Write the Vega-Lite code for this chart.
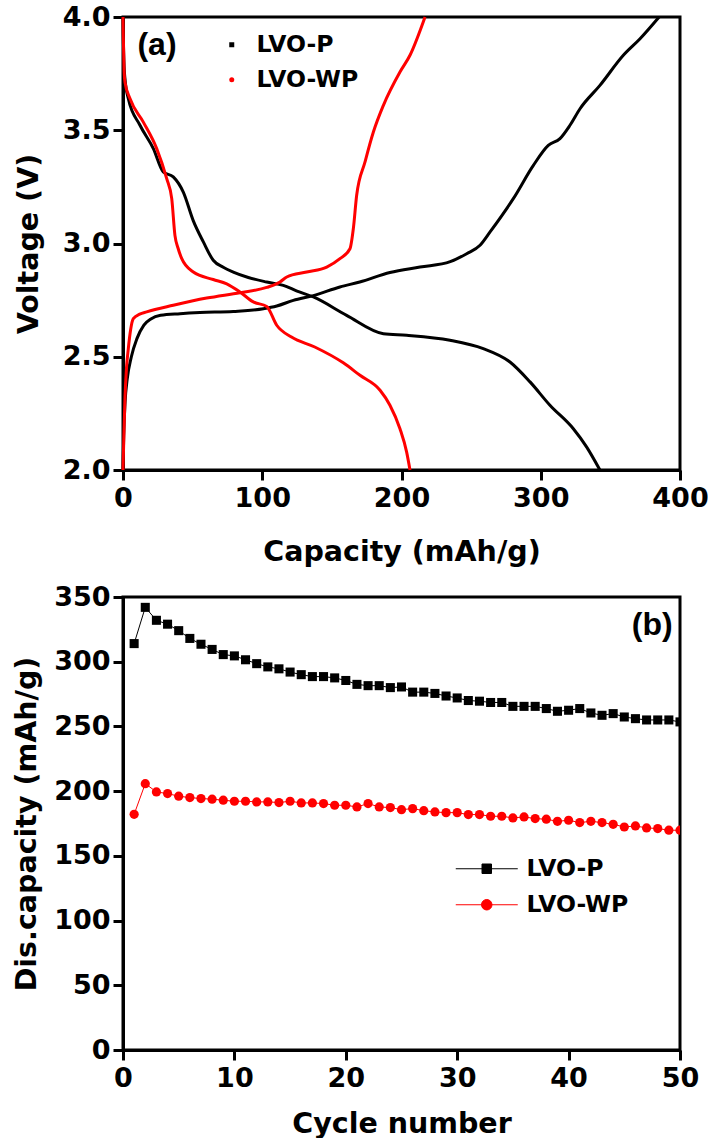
{
  "$schema": "https://vega.github.io/schema/vega-lite/v6.json",
  "background": "white",
  "padding": {"left": 10, "top": 1, "right": 0, "bottom": 0},
  "spacing": 127,
  "bounds": "flush",
  "config": {
    "font": "DejaVu Sans",
    "view": {"stroke": "black", "strokeWidth": 3},
    "axis": {
      "grid": false,
      "domainColor": "black", "domainWidth": 3,
      "tickColor": "black", "tickWidth": 3, "tickSize": 10,
      "labelFont": "DejaVu Sans", "labelFontWeight": "bold", "labelFontSize": 27, "labelColor": "black",
      "labelFlush": false, "labelOverlap": false, "labelBound": false,
      "titleFont": "DejaVu Sans", "titleFontWeight": "bold", "titleFontSize": 28.5, "titleColor": "black"
    },
    "axisX": {"labelPadding": 5},
    "axisY": {"labelPadding": 3},
    "legend": {
      "labelFont": "DejaVu Sans", "labelFontWeight": "bold", "labelFontSize": 23.5, "labelColor": "black",
      "padding": 0
    }
  },
  "datasets": {
    "curves": [
      {"s": "LVO-P", "c": "P-charge", "cap": 0, "V": 2.0},
      {"s": "LVO-P", "c": "P-charge", "cap": 0.5, "V": 2.15},
      {"s": "LVO-P", "c": "P-charge", "cap": 1.5, "V": 2.3},
      {"s": "LVO-P", "c": "P-charge", "cap": 3, "V": 2.4},
      {"s": "LVO-P", "c": "P-charge", "cap": 6, "V": 2.5},
      {"s": "LVO-P", "c": "P-charge", "cap": 10, "V": 2.58},
      {"s": "LVO-P", "c": "P-charge", "cap": 15, "V": 2.64},
      {"s": "LVO-P", "c": "P-charge", "cap": 20, "V": 2.667},
      {"s": "LVO-P", "c": "P-charge", "cap": 27, "V": 2.683},
      {"s": "LVO-P", "c": "P-charge", "cap": 41, "V": 2.69},
      {"s": "LVO-P", "c": "P-charge", "cap": 55.3, "V": 2.695},
      {"s": "LVO-P", "c": "P-charge", "cap": 79.2, "V": 2.7},
      {"s": "LVO-P", "c": "P-charge", "cap": 100.8, "V": 2.712},
      {"s": "LVO-P", "c": "P-charge", "cap": 110.4, "V": 2.724},
      {"s": "LVO-P", "c": "P-charge", "cap": 122.3, "V": 2.749},
      {"s": "LVO-P", "c": "P-charge", "cap": 136.7, "V": 2.77},
      {"s": "LVO-P", "c": "P-charge", "cap": 155.8, "V": 2.808},
      {"s": "LVO-P", "c": "P-charge", "cap": 170, "V": 2.83},
      {"s": "LVO-P", "c": "P-charge", "cap": 191.7, "V": 2.872},
      {"s": "LVO-P", "c": "P-charge", "cap": 213.3, "V": 2.896},
      {"s": "LVO-P", "c": "P-charge", "cap": 235, "V": 2.92},
      {"s": "LVO-P", "c": "P-charge", "cap": 246.8, "V": 2.955},
      {"s": "LVO-P", "c": "P-charge", "cap": 256.4, "V": 2.992},
      {"s": "LVO-P", "c": "P-charge", "cap": 263.6, "V": 3.051},
      {"s": "LVO-P", "c": "P-charge", "cap": 280.3, "V": 3.198},
      {"s": "LVO-P", "c": "P-charge", "cap": 294.7, "V": 3.345},
      {"s": "LVO-P", "c": "P-charge", "cap": 305.4, "V": 3.433},
      {"s": "LVO-P", "c": "P-charge", "cap": 313.8, "V": 3.463},
      {"s": "LVO-P", "c": "P-charge", "cap": 321, "V": 3.522},
      {"s": "LVO-P", "c": "P-charge", "cap": 328.2, "V": 3.595},
      {"s": "LVO-P", "c": "P-charge", "cap": 342.5, "V": 3.698},
      {"s": "LVO-P", "c": "P-charge", "cap": 359.3, "V": 3.831},
      {"s": "LVO-P", "c": "P-charge", "cap": 371.3, "V": 3.904},
      {"s": "LVO-P", "c": "P-charge", "cap": 385, "V": 4.0},

      {"s": "LVO-P", "c": "P-dis", "cap": 0, "V": 4.0},
      {"s": "LVO-P", "c": "P-dis", "cap": 0.2, "V": 3.92},
      {"s": "LVO-P", "c": "P-dis", "cap": 0.8, "V": 3.78},
      {"s": "LVO-P", "c": "P-dis", "cap": 1.4, "V": 3.728},
      {"s": "LVO-P", "c": "P-dis", "cap": 3.8, "V": 3.64},
      {"s": "LVO-P", "c": "P-dis", "cap": 12.2, "V": 3.522},
      {"s": "LVO-P", "c": "P-dis", "cap": 21.8, "V": 3.419},
      {"s": "LVO-P", "c": "P-dis", "cap": 28.9, "V": 3.316},
      {"s": "LVO-P", "c": "P-dis", "cap": 36.1, "V": 3.294},
      {"s": "LVO-P", "c": "P-dis", "cap": 43.3, "V": 3.227},
      {"s": "LVO-P", "c": "P-dis", "cap": 50.5, "V": 3.1},
      {"s": "LVO-P", "c": "P-dis", "cap": 57.7, "V": 3.007},
      {"s": "LVO-P", "c": "P-dis", "cap": 64.8, "V": 2.926},
      {"s": "LVO-P", "c": "P-dis", "cap": 72, "V": 2.895},
      {"s": "LVO-P", "c": "P-dis", "cap": 79.2, "V": 2.874},
      {"s": "LVO-P", "c": "P-dis", "cap": 90, "V": 2.85},
      {"s": "LVO-P", "c": "P-dis", "cap": 103.2, "V": 2.83},
      {"s": "LVO-P", "c": "P-dis", "cap": 115.1, "V": 2.815},
      {"s": "LVO-P", "c": "P-dis", "cap": 125, "V": 2.79},
      {"s": "LVO-P", "c": "P-dis", "cap": 136.7, "V": 2.764},
      {"s": "LVO-P", "c": "P-dis", "cap": 160.6, "V": 2.683},
      {"s": "LVO-P", "c": "P-dis", "cap": 187, "V": 2.602},
      {"s": "LVO-P", "c": "P-dis", "cap": 203.7, "V": 2.595},
      {"s": "LVO-P", "c": "P-dis", "cap": 234.8, "V": 2.573},
      {"s": "LVO-P", "c": "P-dis", "cap": 258.7, "V": 2.536},
      {"s": "LVO-P", "c": "P-dis", "cap": 277.9, "V": 2.477},
      {"s": "LVO-P", "c": "P-dis", "cap": 292.3, "V": 2.389},
      {"s": "LVO-P", "c": "P-dis", "cap": 306.6, "V": 2.286},
      {"s": "LVO-P", "c": "P-dis", "cap": 323.4, "V": 2.182},
      {"s": "LVO-P", "c": "P-dis", "cap": 333, "V": 2.101},
      {"s": "LVO-P", "c": "P-dis", "cap": 342.5, "V": 2.0},

      {"s": "LVO-WP", "c": "WP-charge", "cap": 0, "V": 2.0},
      {"s": "LVO-WP", "c": "WP-charge", "cap": 0.5, "V": 2.12},
      {"s": "LVO-WP", "c": "WP-charge", "cap": 1.4, "V": 2.315},
      {"s": "LVO-WP", "c": "WP-charge", "cap": 2.5, "V": 2.45},
      {"s": "LVO-WP", "c": "WP-charge", "cap": 3.8, "V": 2.535},
      {"s": "LVO-WP", "c": "WP-charge", "cap": 5.5, "V": 2.62},
      {"s": "LVO-WP", "c": "WP-charge", "cap": 7.4, "V": 2.668},
      {"s": "LVO-WP", "c": "WP-charge", "cap": 12, "V": 2.688},
      {"s": "LVO-WP", "c": "WP-charge", "cap": 17, "V": 2.698},
      {"s": "LVO-WP", "c": "WP-charge", "cap": 36.1, "V": 2.727},
      {"s": "LVO-WP", "c": "WP-charge", "cap": 60.1, "V": 2.759},
      {"s": "LVO-WP", "c": "WP-charge", "cap": 84, "V": 2.783},
      {"s": "LVO-WP", "c": "WP-charge", "cap": 103.2, "V": 2.806},
      {"s": "LVO-WP", "c": "WP-charge", "cap": 112.7, "V": 2.83},
      {"s": "LVO-WP", "c": "WP-charge", "cap": 117.6, "V": 2.852},
      {"s": "LVO-WP", "c": "WP-charge", "cap": 131.9, "V": 2.874},
      {"s": "LVO-WP", "c": "WP-charge", "cap": 146.3, "V": 2.896},
      {"s": "LVO-WP", "c": "WP-charge", "cap": 155.8, "V": 2.933},
      {"s": "LVO-WP", "c": "WP-charge", "cap": 163, "V": 2.977},
      {"s": "LVO-WP", "c": "WP-charge", "cap": 165.4, "V": 3.065},
      {"s": "LVO-WP", "c": "WP-charge", "cap": 167.8, "V": 3.213},
      {"s": "LVO-WP", "c": "WP-charge", "cap": 173.8, "V": 3.36},
      {"s": "LVO-WP", "c": "WP-charge", "cap": 179.8, "V": 3.492},
      {"s": "LVO-WP", "c": "WP-charge", "cap": 187, "V": 3.61},
      {"s": "LVO-WP", "c": "WP-charge", "cap": 198.9, "V": 3.757},
      {"s": "LVO-WP", "c": "WP-charge", "cap": 206.1, "V": 3.831},
      {"s": "LVO-WP", "c": "WP-charge", "cap": 216.9, "V": 4.0},

      {"s": "LVO-WP", "c": "WP-dis", "cap": 0, "V": 4.0},
      {"s": "LVO-WP", "c": "WP-dis", "cap": 0.2, "V": 3.92},
      {"s": "LVO-WP", "c": "WP-dis", "cap": 0.8, "V": 3.76},
      {"s": "LVO-WP", "c": "WP-dis", "cap": 1.4, "V": 3.713},
      {"s": "LVO-WP", "c": "WP-dis", "cap": 5, "V": 3.64},
      {"s": "LVO-WP", "c": "WP-dis", "cap": 14.6, "V": 3.536},
      {"s": "LVO-WP", "c": "WP-dis", "cap": 24.2, "V": 3.419},
      {"s": "LVO-WP", "c": "WP-dis", "cap": 31.4, "V": 3.286},
      {"s": "LVO-WP", "c": "WP-dis", "cap": 35, "V": 3.198},
      {"s": "LVO-WP", "c": "WP-dis", "cap": 37.3, "V": 3.036},
      {"s": "LVO-WP", "c": "WP-dis", "cap": 39.5, "V": 2.98},
      {"s": "LVO-WP", "c": "WP-dis", "cap": 42.2, "V": 2.933},
      {"s": "LVO-WP", "c": "WP-dis", "cap": 50.5, "V": 2.874},
      {"s": "LVO-WP", "c": "WP-dis", "cap": 64.8, "V": 2.841},
      {"s": "LVO-WP", "c": "WP-dis", "cap": 74.5, "V": 2.822},
      {"s": "LVO-WP", "c": "WP-dis", "cap": 84, "V": 2.786},
      {"s": "LVO-WP", "c": "WP-dis", "cap": 93.6, "V": 2.742},
      {"s": "LVO-WP", "c": "WP-dis", "cap": 103.2, "V": 2.722},
      {"s": "LVO-WP", "c": "WP-dis", "cap": 110.4, "V": 2.639},
      {"s": "LVO-WP", "c": "WP-dis", "cap": 121, "V": 2.587},
      {"s": "LVO-WP", "c": "WP-dis", "cap": 137.7, "V": 2.543},
      {"s": "LVO-WP", "c": "WP-dis", "cap": 158.2, "V": 2.473},
      {"s": "LVO-WP", "c": "WP-dis", "cap": 170.2, "V": 2.418},
      {"s": "LVO-WP", "c": "WP-dis", "cap": 184.6, "V": 2.352},
      {"s": "LVO-WP", "c": "WP-dis", "cap": 191.7, "V": 2.286},
      {"s": "LVO-WP", "c": "WP-dis", "cap": 198.9, "V": 2.182},
      {"s": "LVO-WP", "c": "WP-dis", "cap": 203.7, "V": 2.079},
      {"s": "LVO-WP", "c": "WP-dis", "cap": 206.1, "V": 2.0}
    ],
    "cycles": [
      {"s": "LVO-P", "cycle": 1, "cap": 314}, {"s": "LVO-P", "cycle": 2, "cap": 342},
      {"s": "LVO-P", "cycle": 3, "cap": 332}, {"s": "LVO-P", "cycle": 4, "cap": 329},
      {"s": "LVO-P", "cycle": 5, "cap": 324}, {"s": "LVO-P", "cycle": 6, "cap": 318},
      {"s": "LVO-P", "cycle": 7, "cap": 313.5}, {"s": "LVO-P", "cycle": 8, "cap": 309.5},
      {"s": "LVO-P", "cycle": 9, "cap": 305.5}, {"s": "LVO-P", "cycle": 10, "cap": 304.5},
      {"s": "LVO-P", "cycle": 11, "cap": 301.5}, {"s": "LVO-P", "cycle": 12, "cap": 298.5},
      {"s": "LVO-P", "cycle": 13, "cap": 296}, {"s": "LVO-P", "cycle": 14, "cap": 294.5},
      {"s": "LVO-P", "cycle": 15, "cap": 292}, {"s": "LVO-P", "cycle": 16, "cap": 290},
      {"s": "LVO-P", "cycle": 17, "cap": 288.5}, {"s": "LVO-P", "cycle": 18, "cap": 288.5},
      {"s": "LVO-P", "cycle": 19, "cap": 287.5}, {"s": "LVO-P", "cycle": 20, "cap": 285.5},
      {"s": "LVO-P", "cycle": 21, "cap": 282.5}, {"s": "LVO-P", "cycle": 22, "cap": 281.5},
      {"s": "LVO-P", "cycle": 23, "cap": 281.5}, {"s": "LVO-P", "cycle": 24, "cap": 280},
      {"s": "LVO-P", "cycle": 25, "cap": 280.5}, {"s": "LVO-P", "cycle": 26, "cap": 276.5},
      {"s": "LVO-P", "cycle": 27, "cap": 276.5}, {"s": "LVO-P", "cycle": 28, "cap": 275.5},
      {"s": "LVO-P", "cycle": 29, "cap": 273.5}, {"s": "LVO-P", "cycle": 30, "cap": 272},
      {"s": "LVO-P", "cycle": 31, "cap": 270}, {"s": "LVO-P", "cycle": 32, "cap": 269.5},
      {"s": "LVO-P", "cycle": 33, "cap": 268.5}, {"s": "LVO-P", "cycle": 34, "cap": 268.5},
      {"s": "LVO-P", "cycle": 35, "cap": 265.5}, {"s": "LVO-P", "cycle": 36, "cap": 265.5},
      {"s": "LVO-P", "cycle": 37, "cap": 265.5}, {"s": "LVO-P", "cycle": 38, "cap": 263.8},
      {"s": "LVO-P", "cycle": 39, "cap": 261.7}, {"s": "LVO-P", "cycle": 40, "cap": 262.5},
      {"s": "LVO-P", "cycle": 41, "cap": 263.8}, {"s": "LVO-P", "cycle": 42, "cap": 260.4},
      {"s": "LVO-P", "cycle": 43, "cap": 258.6}, {"s": "LVO-P", "cycle": 44, "cap": 259.9},
      {"s": "LVO-P", "cycle": 45, "cap": 257.3}, {"s": "LVO-P", "cycle": 46, "cap": 256},
      {"s": "LVO-P", "cycle": 47, "cap": 255}, {"s": "LVO-P", "cycle": 48, "cap": 255},
      {"s": "LVO-P", "cycle": 49, "cap": 255}, {"s": "LVO-P", "cycle": 50, "cap": 253.5},

      {"s": "LVO-WP", "cycle": 1, "cap": 182.1}, {"s": "LVO-WP", "cycle": 2, "cap": 205.8},
      {"s": "LVO-WP", "cycle": 3, "cap": 199.4}, {"s": "LVO-WP", "cycle": 4, "cap": 198.1},
      {"s": "LVO-WP", "cycle": 5, "cap": 196.1}, {"s": "LVO-WP", "cycle": 6, "cap": 195},
      {"s": "LVO-WP", "cycle": 7, "cap": 194.3}, {"s": "LVO-WP", "cycle": 8, "cap": 193.8},
      {"s": "LVO-WP", "cycle": 9, "cap": 193}, {"s": "LVO-WP", "cycle": 10, "cap": 192.2},
      {"s": "LVO-WP", "cycle": 11, "cap": 192.2}, {"s": "LVO-WP", "cycle": 12, "cap": 191.7},
      {"s": "LVO-WP", "cycle": 13, "cap": 191.7}, {"s": "LVO-WP", "cycle": 14, "cap": 191.2},
      {"s": "LVO-WP", "cycle": 15, "cap": 192.2}, {"s": "LVO-WP", "cycle": 16, "cap": 190.9},
      {"s": "LVO-WP", "cycle": 17, "cap": 190.9}, {"s": "LVO-WP", "cycle": 18, "cap": 190.4},
      {"s": "LVO-WP", "cycle": 19, "cap": 189.1}, {"s": "LVO-WP", "cycle": 20, "cap": 189.1},
      {"s": "LVO-WP", "cycle": 21, "cap": 187.8}, {"s": "LVO-WP", "cycle": 22, "cap": 190.4},
      {"s": "LVO-WP", "cycle": 23, "cap": 187.8}, {"s": "LVO-WP", "cycle": 24, "cap": 187.3},
      {"s": "LVO-WP", "cycle": 25, "cap": 185.7}, {"s": "LVO-WP", "cycle": 26, "cap": 186.5},
      {"s": "LVO-WP", "cycle": 27, "cap": 184.9}, {"s": "LVO-WP", "cycle": 28, "cap": 183.9},
      {"s": "LVO-WP", "cycle": 29, "cap": 183.4}, {"s": "LVO-WP", "cycle": 30, "cap": 183.4},
      {"s": "LVO-WP", "cycle": 31, "cap": 181.9}, {"s": "LVO-WP", "cycle": 32, "cap": 181.9},
      {"s": "LVO-WP", "cycle": 33, "cap": 180.6}, {"s": "LVO-WP", "cycle": 34, "cap": 180.6},
      {"s": "LVO-WP", "cycle": 35, "cap": 179.3}, {"s": "LVO-WP", "cycle": 36, "cap": 180.1},
      {"s": "LVO-WP", "cycle": 37, "cap": 178.8}, {"s": "LVO-WP", "cycle": 38, "cap": 178.3},
      {"s": "LVO-WP", "cycle": 39, "cap": 176.7}, {"s": "LVO-WP", "cycle": 40, "cap": 177.5},
      {"s": "LVO-WP", "cycle": 41, "cap": 175.7}, {"s": "LVO-WP", "cycle": 42, "cap": 176.7},
      {"s": "LVO-WP", "cycle": 43, "cap": 175.7}, {"s": "LVO-WP", "cycle": 44, "cap": 174.4},
      {"s": "LVO-WP", "cycle": 45, "cap": 172.3}, {"s": "LVO-WP", "cycle": 46, "cap": 173.1},
      {"s": "LVO-WP", "cycle": 47, "cap": 171.6}, {"s": "LVO-WP", "cycle": 48, "cap": 171.1},
      {"s": "LVO-WP", "cycle": 49, "cap": 169.8}, {"s": "LVO-WP", "cycle": 50, "cap": 169.8}
    ]
  },
  "resolve": {
    "scale": {"color": "independent"},
    "legend": {"color": "independent"}
  },
  "vconcat": [
    {
      "width": 557,
      "height": 453,
      "layer": [
        {
          "data": {"name": "curves"},
          "mark": {"type": "line", "strokeWidth": 3, "interpolate": "monotone"},
          "encoding": {
            "x": {"field": "cap", "type": "quantitative",
                  "scale": {"domain": [0, 400], "nice": false},
                  "axis": {"values": [0, 100, 200, 300, 400], "title": "Capacity (mAh/g)", "titleY": 90, "titleBaseline": "alphabetic"}},
            "y": {"field": "V", "type": "quantitative",
                  "scale": {"domain": [2, 4], "nice": false, "zero": false},
                  "axis": {"values": [2, 2.5, 3, 3.5, 4], "format": ".1f", "title": "Voltage (V)", "titleX": -86, "titleBaseline": "alphabetic"}},
            "color": {"field": "s", "type": "nominal",
                      "scale": {"domain": ["LVO-P", "LVO-WP"], "range": ["black", "red"]},
                      "legend": {
                        "title": null, "orient": "none", "legendX": 97, "legendY": 16,
                        "labelOffset": 13, "rowPadding": 10, "symbolType": "circle", "symbolSize": 25,
                        "encode": {"symbols": {"update": {
                          "shape": {"signal": "datum.value === 'LVO-P' ? 'square' : 'circle'"},
                          "fill": {"signal": "datum.value === 'LVO-P' ? 'black' : 'red'"},
                          "stroke": {"value": "transparent"},
                          "strokeWidth": {"value": 0},
                          "opacity": {"value": 1}
                        }}}
                      }},
            "detail": {"field": "c"}
          }
        },
        {
          "data": {"values": [{}]},
          "mark": {"type": "text", "text": "(a)", "font": "Liberation Sans", "fontWeight": "bold", "fontSize": 32, "align": "center", "baseline": "middle", "color": "black"},
          "encoding": {"x": {"datum": 24.4}, "y": {"datum": 3.876}}
        }
      ]
    },
    {
      "width": 557,
      "height": 453,
      "layer": [
        {
          "data": {"name": "cycles"},
          "mark": {"type": "line", "strokeWidth": 1, "clip": true},
          "encoding": {
            "x": {"field": "cycle", "type": "quantitative",
                  "scale": {"domain": [0, 50], "nice": false},
                  "axis": {"values": [0, 10, 20, 30, 40, 50], "title": "Cycle number", "titleY": 82, "titleBaseline": "alphabetic"}},
            "y": {"field": "cap", "type": "quantitative",
                  "scale": {"domain": [0, 350], "nice": false},
                  "axis": {"values": [0, 50, 100, 150, 200, 250, 300, 350], "title": "Dis.capacity (mAh/g)", "titleX": -88, "titleBaseline": "alphabetic"}},
            "color": {"field": "s", "type": "nominal",
                      "scale": {"domain": ["LVO-P", "LVO-WP"], "range": ["black", "red"]},
                      "legend": {
                        "title": null, "orient": "none", "legendX": 352, "legendY": 260,
                        "labelOffset": 28, "rowPadding": 11, "symbolSize": 100, "symbolType": "stroke",
                        "encode": {"symbols": {"update": {
                          "shape": {"signal": "datum.value === 'LVO-P' ? 'M-6.2,0H6.2M-0.95,-0.95H0.95V0.95H-0.95Z' : 'M-6.2,0H6.2M1.05,0A1.05,1.05,0,1,1,-1.05,0A1.05,1.05,0,1,1,1.05,0Z'"},
                          "fill": {"signal": "datum.value === 'LVO-P' ? 'black' : 'red'"},
                          "stroke": {"signal": "datum.value === 'LVO-P' ? 'black' : 'red'"},
                          "strokeWidth": {"value": 1},
                          "opacity": {"value": 1}
                        }}}
                      }}
          }
        },
        {
          "data": {"name": "cycles"},
          "transform": [{"filter": "datum.s === 'LVO-P'"}],
          "mark": {"type": "point", "shape": "square", "filled": true, "opacity": 1, "strokeWidth": 0, "clip": true, "size": 82},
          "encoding": {
            "x": {"field": "cycle", "type": "quantitative"},
            "y": {"field": "cap", "type": "quantitative"},
            "color": {"field": "s", "type": "nominal"}
          }
        },
        {
          "data": {"name": "cycles"},
          "transform": [{"filter": "datum.s === 'LVO-WP'"}],
          "mark": {"type": "point", "shape": "circle", "filled": true, "opacity": 1, "strokeWidth": 0, "clip": true, "size": 85},
          "encoding": {
            "x": {"field": "cycle", "type": "quantitative"},
            "y": {"field": "cap", "type": "quantitative"},
            "color": {"field": "s", "type": "nominal"}
          }
        },
        {
          "data": {"values": [{}]},
          "mark": {"type": "text", "text": "(b)", "font": "Liberation Sans", "fontWeight": "bold", "fontSize": 32, "align": "center", "baseline": "middle", "color": "black"},
          "encoding": {"x": {"datum": 47.5}, "y": {"datum": 328.4}}
        }
      ]
    }
  ]
}
